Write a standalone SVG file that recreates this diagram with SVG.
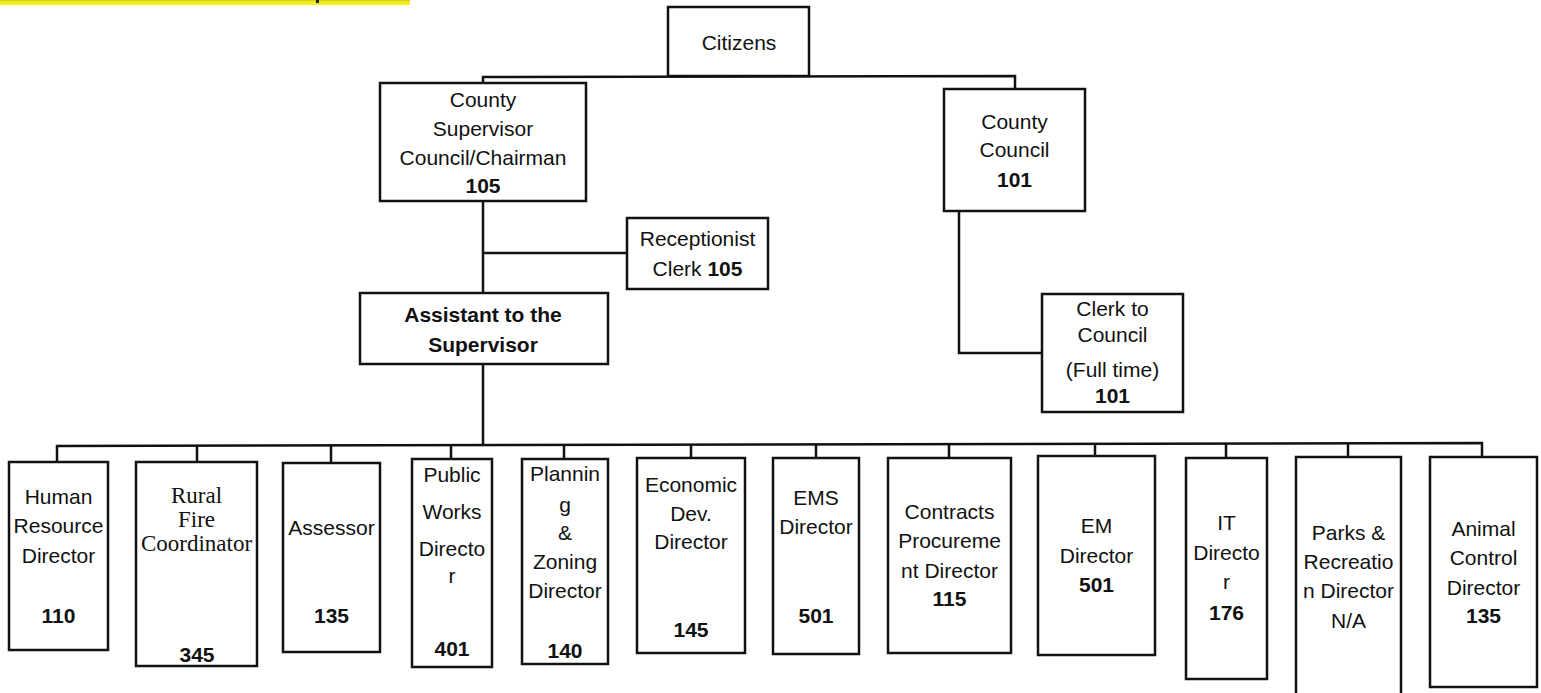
<svg xmlns="http://www.w3.org/2000/svg" width="1541" height="693" viewBox="0 0 1541 693">
  <style>
    .box { fill: #ffffff; stroke: #111111; stroke-width: 2.5; }
    .wire { fill: none; stroke: #111111; stroke-width: 2.5; stroke-linejoin: miter; }
    text { font-family: "Liberation Sans", Arial, sans-serif; font-size: 21px; fill: #111111; text-anchor: middle; }
    .b { font-weight: bold; }
    .serif { font-family: "Liberation Serif", "Times New Roman", serif; font-size: 23px; }
  </style>

  <rect width="1541" height="693" fill="#ffffff"/>

  <!-- highlighted heading strip, cropped at the top edge -->
  <g id="heading-strip">
    <rect x="0" y="0" width="410" height="5" fill="#f6f01a"/>
    <rect x="0" y="0" width="410" height="1.5" fill="#b8b23a" opacity="0.5"/>
    <rect x="316" y="0" width="3" height="3" fill="#222"/>
  </g>

  <!-- connectors -->
  <g id="connectors" class="wire">
    <!-- Citizens to the two governing bodies -->
    <polyline points="483,83 483,77 1015,76 1015,89"/>
    <!-- Supervisor down to Assistant, with Receptionist branch -->
    <line x1="483" y1="201" x2="483" y2="293"/>
    <line x1="483" y1="253" x2="627" y2="253"/>
    <!-- County Council to Clerk -->
    <polyline points="959,211 959,353 1042,353"/>
    <!-- Assistant down to department bus -->
    <line x1="483" y1="364" x2="483" y2="444"/>
    <polyline points="57,462 57,446 1482,443 1482,457"/>
    <line x1="197" y1="446" x2="197" y2="462"/>
    <line x1="331" y1="446" x2="331" y2="463"/>
    <line x1="451" y1="445" x2="451" y2="459"/>
    <line x1="564" y1="445" x2="564" y2="459"/>
    <line x1="691" y1="445" x2="691" y2="458"/>
    <line x1="816" y1="444" x2="816" y2="458"/>
    <line x1="949" y1="444" x2="949" y2="458"/>
    <line x1="1095" y1="444" x2="1095" y2="456"/>
    <line x1="1226" y1="443" x2="1226" y2="458"/>
    <line x1="1348" y1="443" x2="1348" y2="457"/>
  </g>

  <g id="citizens">
    <rect class="box" x="668" y="7" width="141" height="69"/>
    <text x="739" y="50">Citizens</text>
  </g>

  <g id="county-supervisor">
    <rect class="box" x="380" y="83" width="206" height="118"/>
    <text x="483" y="107">County</text>
    <text x="483" y="136">Supervisor</text>
    <text x="483" y="165">Council/Chairman</text>
    <text class="b" x="483" y="193">105</text>
  </g>

  <g id="county-council">
    <rect class="box" x="944" y="89" width="141" height="122"/>
    <text x="1014.5" y="129">County</text>
    <text x="1014.5" y="157">Council</text>
    <text class="b" x="1014.5" y="187">101</text>
  </g>

  <g id="receptionist">
    <rect class="box" x="627" y="218" width="141" height="71"/>
    <text x="697.5" y="246">Receptionist</text>
    <text x="697.5" y="276">Clerk <tspan class="b">105</tspan></text>
  </g>

  <g id="assistant">
    <rect class="box" x="360" y="293" width="248" height="71"/>
    <text class="b" x="483" y="322">Assistant to the</text>
    <text class="b" x="483" y="352">Supervisor</text>
  </g>

  <g id="clerk-to-council">
    <rect class="box" x="1042" y="294" width="141" height="118"/>
    <text x="1112.5" y="316">Clerk to</text>
    <text x="1112.5" y="342">Council</text>
    <text x="1112.5" y="377">(Full time)</text>
    <text class="b" x="1112.5" y="403">101</text>
  </g>

  <g id="human-resource">
    <rect class="box" x="9" y="462" width="99" height="188"/>
    <text x="58.5" y="504">Human</text>
    <text x="58.5" y="533">Resource</text>
    <text x="58.5" y="563">Director</text>
    <text class="b" x="58.5" y="623">110</text>
  </g>

  <g id="rural-fire">
    <rect class="box" x="136" y="462" width="121" height="204"/>
    <text class="serif" x="196.5" y="503">Rural</text>
    <text class="serif" x="196.5" y="527">Fire</text>
    <text class="serif" x="196.5" y="551">Coordinator</text>
    <text class="b" x="197" y="662">345</text>
  </g>

  <g id="assessor">
    <rect class="box" x="283" y="463" width="97" height="189"/>
    <text x="331.5" y="535">Assessor</text>
    <text class="b" x="331.5" y="623">135</text>
  </g>

  <g id="public-works">
    <rect class="box" x="412" y="459" width="80" height="208"/>
    <text x="452" y="482">Public</text>
    <text x="452" y="519">Works</text>
    <text x="452" y="556">Directo</text>
    <text x="452" y="583">r</text>
    <text class="b" x="452" y="656">401</text>
  </g>

  <g id="planning-zoning">
    <rect class="box" x="522" y="459" width="86" height="205"/>
    <text x="565" y="481">Plannin</text>
    <text x="565" y="512">g</text>
    <text x="565" y="540">&amp;</text>
    <text x="565" y="569">Zoning</text>
    <text x="565" y="598">Director</text>
    <text class="b" x="565" y="658">140</text>
  </g>

  <g id="economic-dev">
    <rect class="box" x="637" y="458" width="108" height="195"/>
    <text x="691" y="492">Economic</text>
    <text x="691" y="521">Dev.</text>
    <text x="691" y="549">Director</text>
    <text class="b" x="691" y="637">145</text>
  </g>

  <g id="ems">
    <rect class="box" x="773" y="458" width="86" height="196"/>
    <text x="816" y="505">EMS</text>
    <text x="816" y="534">Director</text>
    <text class="b" x="816" y="623">501</text>
  </g>

  <g id="contracts">
    <rect class="box" x="888" y="458" width="123" height="195"/>
    <text x="949.5" y="519">Contracts</text>
    <text x="949.5" y="548">Procureme</text>
    <text x="949.5" y="578">nt Director</text>
    <text class="b" x="949.5" y="606">115</text>
  </g>

  <g id="em">
    <rect class="box" x="1038" y="456" width="117" height="199"/>
    <text x="1096.5" y="533">EM</text>
    <text x="1096.5" y="563">Director</text>
    <text class="b" x="1096.5" y="592">501</text>
  </g>

  <g id="it">
    <rect class="box" x="1186" y="458" width="81" height="221"/>
    <text x="1226.5" y="530">IT</text>
    <text x="1226.5" y="560">Directo</text>
    <text x="1226.5" y="589">r</text>
    <text class="b" x="1226.5" y="620">176</text>
  </g>

  <g id="parks-recreation">
    <rect class="box" x="1296" y="457" width="105" height="250"/>
    <text x="1348.5" y="540">Parks &amp;</text>
    <text x="1348.5" y="569">Recreatio</text>
    <text x="1348.5" y="598">n Director</text>
    <text x="1348.5" y="628">N/A</text>
  </g>

  <g id="animal-control">
    <rect class="box" x="1430" y="457" width="107" height="230"/>
    <text x="1483.5" y="536">Animal</text>
    <text x="1483.5" y="565">Control</text>
    <text x="1483.5" y="595">Director</text>
    <text class="b" x="1483.5" y="623">135</text>
  </g>
</svg>
